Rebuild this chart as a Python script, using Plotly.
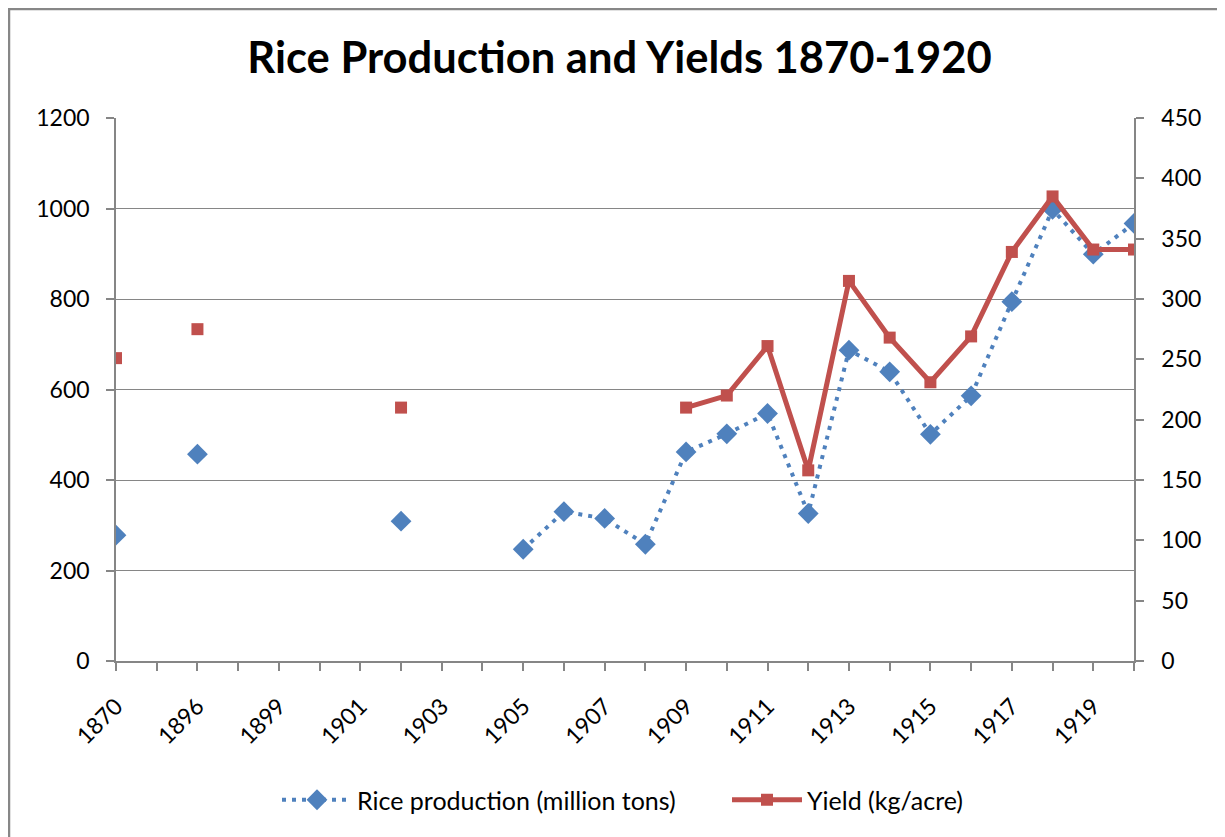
import plotly.graph_objects as go

# ---- data ----
years = ["1870", "1880", "1896", "1897", "1899", "1900", "1901", "1902", "1903", "1904",
         "1905", "1906", "1907", "1908", "1909", "1910", "1911", "1912", "1913", "1914",
         "1915", "1916", "1917", "1918", "1919", "1920"]
rice_production = [278, None, 457, None, None, None, None, 309, None, None,
                   247, 330, 315, 258, 462, 502, 547, 326, 687, 639,
                   501, 586, 794, 998, 899, 967]
yield_kg_acre = [251, None, 275, None, None, None, None, 210, None, None,
                 None, None, None, None, 210, 220, 261, 158, 315, 268,
                 231, 269, 339, 385, 341, 341]
tick_labels = [y if i % 2 == 0 else "" for i, y in enumerate(years)]
left_ticks = [0, 200, 400, 600, 800, 1000, 1200]
right_ticks = [0, 50, 100, 150, 200, 250, 300, 350, 400, 450]

FONT = "Lato"
AXIS_GRAY = "#868686"
BLUE = "#4F81BD"
RED = "#C0504D"

# plot-area geometry (figure pixels)
L, R, T, B = 108, 99, 110, 184
PW = 1225 - L - R
PH = 837 - T - B

fig = go.Figure()
fig.add_trace(go.Scatter(
    x=years, y=rice_production, name="Rice production (million tons)",
    mode="lines+markers", connectgaps=False,
    line=dict(color=BLUE, width=4, dash="4px,6px"),
    marker=dict(symbol="diamond", size=16, color=BLUE),
    yaxis="y"))
fig.add_trace(go.Scatter(
    x=years, y=yield_kg_acre, name="Yield (kg/acre)",
    mode="lines+markers", connectgaps=False,
    line=dict(color=RED, width=5),
    marker=dict(symbol="square", size=12, color=RED),
    yaxis="y2"))

fig.update_layout(
    width=1225, height=837,
    margin=dict(l=L, r=R, t=T, b=B),
    paper_bgcolor="white", plot_bgcolor="white",
    font=dict(family=FONT, size=23, color="black"),
    title=dict(text="<b>Rice Production and Yields 1870-1920</b>",
               font=dict(family=FONT, size=43.5, color="black"),
               x=611.5 / 1225, xanchor="center", y=1 - 50 / 837, yanchor="middle",
               xref="container", yref="container"),
    xaxis=dict(type="category", categoryorder="array", categoryarray=years,
               range=[0, len(years) - 1],
               tickmode="array", tickvals=years, ticktext=tick_labels,
               tickangle=-45, ticks="outside", ticklen=8, tickcolor=AXIS_GRAY,
               tickwidth=1.5, ticklabelstandoff=13,
               showline=True, linecolor=AXIS_GRAY, linewidth=1.5,
               showgrid=False, zeroline=False,
               tickfont=dict(family=FONT, size=23)),
    yaxis=dict(range=[0, 1200], tickmode="array", tickvals=left_ticks,
               ticks="outside", ticklen=8, tickcolor=AXIS_GRAY, tickwidth=1.5,
               ticklabelstandoff=12,
               showline=True, linecolor=AXIS_GRAY, linewidth=1.5,
               showgrid=True, gridcolor=AXIS_GRAY, gridwidth=1.2,
               zeroline=False, tickfont=dict(family=FONT, size=23)),
    yaxis2=dict(range=[0, 450], tickmode="array", tickvals=right_ticks,
                overlaying="y", side="right",
                ticks="outside", ticklen=8, tickcolor=AXIS_GRAY, tickwidth=1.5,
                ticklabelstandoff=13,
                showline=True, linecolor=AXIS_GRAY, linewidth=1.5,
                showgrid=False, zeroline=False,
                tickfont=dict(family=FONT, size=23)),
    legend=dict(orientation="h", x=(285 - 8 - L - 8) / PW, xanchor="left",
                y=-(792 - T - PH) / PH, yanchor="middle",
                font=dict(family=FONT, size=25), itemwidth=70,
                entrywidth=365, entrywidthmode="pixels",
                bgcolor="rgba(0,0,0,0)"),
    showlegend=True,
)

# chart-area border (Excel style), extending beyond right/bottom edges
fig.add_shape(type="rect", xref="paper", yref="paper",
              x0=(1 - L) / PW, x1=(1300 - L) / PW,
              y0=-(900 - T - PH) / PH, y1=(T + PH - 1) / PH,
              line=dict(color="#878787", width=2.5), layer="below")

fig.write_html("out.html")
